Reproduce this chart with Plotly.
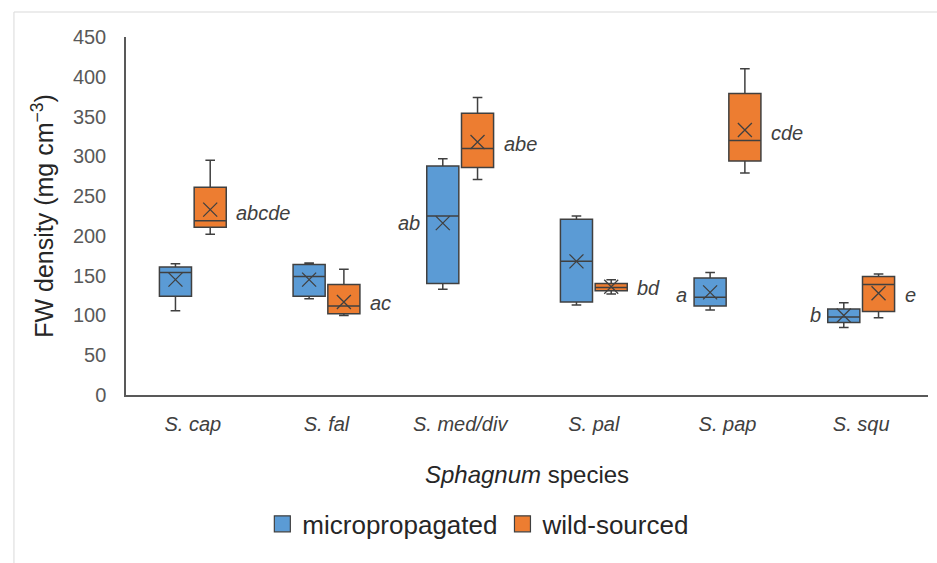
import plotly.graph_objects as go

# ---------------- data ----------------
categories = ["S. cap", "S. fal", "S. med/div", "S. pal", "S. pap", "S. squ"]

micro_lower = [106, 121, 133, 113, 107, 85]
micro_q1 = [124, 124, 140, 117, 112, 91]
micro_median = [154, 149, 225, 168, 123, 98]
micro_q3 = [161, 164, 288, 221, 147, 108]
micro_upper = [165, 166, 297, 225, 154, 116]
micro_mean = [145, 145, 216, 168, 129, 100]

wild_lower = [202, 100, 271, 127, 279, 97]
wild_q1 = [211, 102, 286, 131, 294, 105]
wild_median = [219, 112, 310, 135, 320, 139]
wild_q3 = [261, 139, 354, 140, 379, 149]
wild_upper = [295, 158, 374, 145, 410, 152]
wild_mean = [233, 117, 318, 136, 333, 128]

# significance letters
letter_cat = [0, 1, 2, 2, 3, 4, 4, 5, 5]
letter_series = ["wild", "wild", "micro", "wild", "wild", "micro", "wild", "micro", "wild"]
letter_text = ["abcde", "ac", "ab", "abe", "bd", "a", "cde", "b", "e"]
letter_y = [229, 116, 216, 315, 134, 126, 329, 100, 126]

y_ticks = list(range(0, 451, 50))

# ---------------- style ----------------
FONT = "Liberation Sans, Arial, sans-serif"
BLUE = "#5B9BD5"
ORANGE = "#ED7D31"
EDGE = "#404040"
OFFSET = 0.13
BOX_W = 0.24

idx = list(range(len(categories)))
x_micro = [i - OFFSET for i in idx]
x_wild = [i + OFFSET for i in idx]

fig = go.Figure()

for name, xs, lo, q1, med, q3, up, mean, col in [
    ("micropropagated", x_micro, micro_lower, micro_q1, micro_median, micro_q3, micro_upper, micro_mean, BLUE),
    ("wild-sourced", x_wild, wild_lower, wild_q1, wild_median, wild_q3, wild_upper, wild_mean, ORANGE),
]:
    fig.add_trace(go.Box(
        x=xs, q1=q1, median=med, q3=q3, lowerfence=lo, upperfence=up,
        width=BOX_W, whiskerwidth=0.3, boxpoints=False,
        fillcolor=col, line=dict(color=EDGE, width=1.5),
        showlegend=False, name=name, hoverinfo="skip",
    ))
    fig.add_trace(go.Scatter(
        x=xs, y=mean, mode="markers", showlegend=False, hoverinfo="skip",
        marker=dict(symbol="x-thin", size=14, line=dict(color=EDGE, width=1.3)),
    ))
    # legend swatch
    fig.add_trace(go.Scatter(
        x=[None], y=[None], mode="markers", name=name,
        marker=dict(symbol="square", size=16, color=col, line=dict(color=EDGE, width=1.2)),
    ))

for c, s, t, yv in zip(letter_cat, letter_series, letter_text, letter_y):
    if s == "wild":
        xa, anchor, shift = c + OFFSET + BOX_W / 2, "left", 8
    else:
        xa, anchor, shift = c - OFFSET - BOX_W / 2, "right", -5
    fig.add_annotation(
        x=xa, y=yv, text="<i>" + t + "</i>", showarrow=False,
        xanchor=anchor, yanchor="middle", xshift=shift,
        font=dict(family=FONT, size=20, color=EDGE),
    )

# outer light border
fig.add_shape(type="rect", xref="paper", yref="paper",
              x0=-0.1397, x1=1.05, y0=-0.6, y1=1.0698,
              line=dict(color="#D9D9D9", width=1), fillcolor="rgba(0,0,0,0)", layer="below")

fig.update_layout(
    width=937, height=563,
    margin=dict(l=126, r=9, t=37, b=168),
    paper_bgcolor="white", plot_bgcolor="white",
    font=dict(family=FONT, color="#404040"),
    xaxis=dict(
        range=[-0.5, len(categories) - 0.5],
        tickvals=idx, ticktext=["<i>" + c + "</i>" for c in categories],
        tickfont=dict(size=20, color="#404040"),
        showgrid=False, zeroline=False, showline=True, linecolor="#595959", linewidth=1.5,
        ticks="", ticklabelstandoff=10, automargin=False,
        title=dict(text="<i>Sphagnum</i> species", font=dict(size=24, color="#262626"), standoff=32),
    ),
    yaxis=dict(
        range=[0, 450], tickvals=y_ticks,
        tickfont=dict(size=20, color="#595959"),
        showgrid=False, zeroline=False, showline=True, linecolor="#595959", linewidth=1.5,
        ticks="", ticklabelstandoff=14, automargin=False,
        title=dict(text="FW density (mg cm<sup>−3</sup>)", font=dict(size=25, color="#262626"), standoff=12),
    ),
    legend=dict(
        orientation="h", x=0.17, xanchor="left", y=-0.36, yanchor="middle",
        font=dict(size=26, color="#262626"), bgcolor="rgba(0,0,0,0)",
    ),
)

fig.write_html("out.html")
